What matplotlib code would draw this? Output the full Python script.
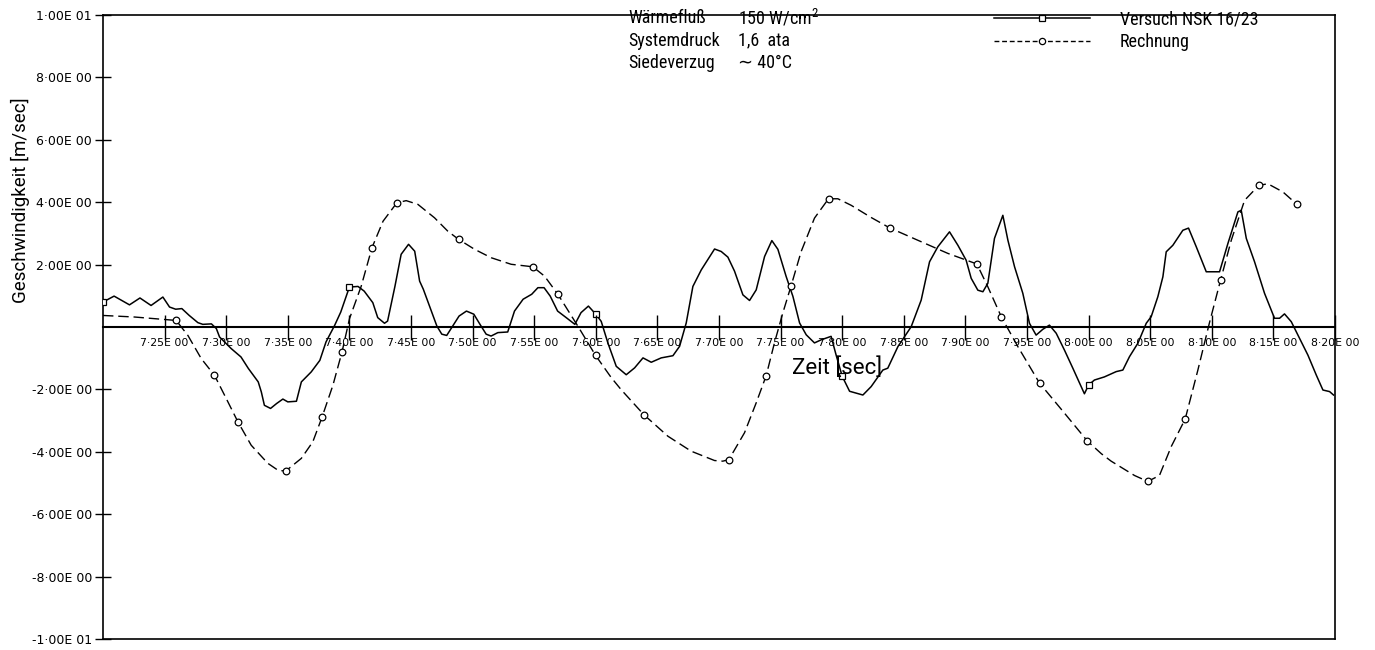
import numpy as np
import matplotlib
matplotlib.use("Agg")
import matplotlib.pyplot as plt
from matplotlib.lines import Line2D
from matplotlib import font_manager

# ---------------- data ----------------
versuch_t = [7.200, 7.209, 7.2215, 7.230, 7.239, 7.2486, 7.254, 7.259, 7.264, 7.270,
             7.277, 7.281, 7.288, 7.292, 7.2946, 7.304, 7.312, 7.318, 7.326, 7.3285,
             7.331, 7.336, 7.341, 7.346, 7.350, 7.357, 7.361, 7.369, 7.376, 7.381,
             7.388, 7.393, 7.400, 7.407, 7.412, 7.419, 7.423, 7.4285, 7.431, 7.437,
             7.442, 7.448, 7.453, 7.457, 7.460, 7.465, 7.471, 7.475, 7.479, 7.483,
             7.489, 7.495, 7.501, 7.506, 7.511, 7.515, 7.5205, 7.5285, 7.534, 7.541,
             7.548, 7.553, 7.558, 7.563, 7.569, 7.576, 7.583, 7.588, 7.594, 7.600,
             7.6044, 7.6098, 7.6166, 7.6247, 7.6315, 7.6383, 7.645, 7.6531, 7.6626, 7.668,
             7.6734, 7.6788, 7.6856, 7.6964, 7.7018, 7.7072, 7.7126, 7.7194, 7.7248, 7.7302,
             7.737, 7.7429, 7.7478, 7.7545, 7.760, 7.7654, 7.7708, 7.7775, 7.783, 7.791,
             7.795, 7.800, 7.806, 7.8168, 7.8235, 7.833, 7.837, 7.8452, 7.856, 7.8641,
             7.8709, 7.8776, 7.8871, 7.8939, 7.9006, 7.9047, 7.9101, 7.9142, 7.9182, 7.9236,
             7.9304, 7.9345, 7.9399, 7.9466, 7.952, 7.9574, 7.9628, 7.9682, 7.9737, 7.9804,
             7.9872, 7.9939, 7.9966, 8.000, 8.0047, 8.0128, 8.0224, 8.0278, 8.0332, 8.040,
             8.0468, 8.0508, 8.0562, 8.0603, 8.063, 8.0684, 8.0765, 8.0811, 8.0874, 8.0955,
             8.1063, 8.1131, 8.1212, 8.1239, 8.1280, 8.1347, 8.1428, 8.1509, 8.155, 8.159,
             8.1645, 8.1699, 8.178, 8.1848, 8.1902, 8.1956, 8.1988]
versuch_v = [0.80, 0.99, 0.71, 0.93, 0.69, 0.96, 0.64, 0.57, 0.59, 0.37,
             0.14, 0.085, 0.10, -0.05, -0.32, -0.69, -0.96, -1.33, -1.76, -2.08,
             -2.51, -2.61, -2.45, -2.31, -2.40, -2.38, -1.76, -1.44, -1.07, -0.48,
             0.05, 0.48, 1.28, 1.30, 1.15, 0.78, 0.30, 0.12, 0.19, 1.31,
             2.33, 2.65, 2.43, 1.47, 1.21, 0.67, 0.03, -0.23, -0.27, -0.02,
             0.35, 0.51, 0.41, 0.085, -0.23, -0.29, -0.18, -0.16, 0.51, 0.89,
             1.05, 1.26, 1.26, 0.99, 0.51, 0.30, 0.085, 0.46, 0.67, 0.41,
             0.18, -0.51, -1.26, -1.53, -1.31, -0.99, -1.13, -0.99, -0.92, -0.62,
             0.13, 1.30, 1.83, 2.50, 2.42, 2.24, 1.79, 1.03, 0.85, 1.19,
             2.26, 2.77, 2.49, 1.62, 0.98, 0.13, -0.25, -0.51, -0.41, -0.30,
             -0.89, -1.58, -2.06, -2.18, -1.91, -1.38, -1.32, -0.63, 0.01, 0.86,
             2.09, 2.57, 3.05, 2.62, 2.14, 1.56, 1.18, 1.13, 1.40, 2.84,
             3.58, 2.78, 1.93, 1.08, 0.12, -0.26, -0.075, 0.06, -0.20, -0.74,
             -1.32, -1.91, -2.14, -1.86, -1.70, -1.60, -1.43, -1.38, -0.95, -0.52,
             0.12, 0.33, 0.97, 1.61, 2.41, 2.62, 3.10, 3.17, 2.57, 1.77,
             1.77, 2.68, 3.69, 3.74, 2.84, 2.09, 1.08, 0.28, 0.28, 0.42,
             0.17, -0.26, -0.90, -1.54, -2.02, -2.07, -2.18]
versuch_marker_t = [7.20, 7.40, 7.60, 7.80, 8.00]

rechnung_t = [7.200, 7.2256, 7.2594, 7.2689, 7.2797, 7.2905, 7.300, 7.3095, 7.3203, 7.3338,
              7.342, 7.3482, 7.361, 7.3703, 7.3777, 7.3866, 7.394, 7.4001, 7.4096, 7.4183,
              7.4273, 7.4385, 7.4461, 7.4556, 7.4691, 7.4799, 7.4886, 7.5016, 7.5151, 7.5313,
              7.5489, 7.5584, 7.5692, 7.5854, 7.5998, 7.6125, 7.6206, 7.639, 7.6585, 7.6774,
              7.6964, 7.7031, 7.708, 7.7207, 7.7302, 7.7383, 7.745, 7.7518, 7.7586, 7.7667,
              7.7775, 7.7889, 7.7965, 7.8073, 7.8235, 7.8384, 7.8614, 7.8857, 7.9093, 7.9182,
              7.9291, 7.9426, 7.9602, 7.9804, 7.9989, 8.0103, 8.0183, 8.0373, 8.048, 8.0575,
              8.0671, 8.0784, 8.0887, 8.098, 8.1071, 8.1158, 8.1266, 8.1382, 8.1455, 8.1577,
              8.1688]
rechnung_v = [0.37, 0.32, 0.21, -0.27, -1.01, -1.55, -2.29, -3.04, -3.79, -4.37,
              -4.59, -4.62, -4.21, -3.68, -2.90, -1.87, -0.80, 0.27, 1.31, 2.54,
              3.39, 3.98, 4.05, 3.93, 3.50, 3.07, 2.81, 2.49, 2.22, 2.01,
              1.93, 1.63, 1.05, 0.03, -0.91, -1.62, -2.01, -2.81, -3.50, -3.98,
              -4.28, -4.30, -4.25, -3.39, -2.43, -1.56, -0.51, 0.45, 1.33, 2.42,
              3.49, 4.11, 4.11, 3.90, 3.51, 3.18, 2.78, 2.36, 2.02, 1.29,
              0.33, -0.63, -1.80, -2.76, -3.65, -4.06, -4.30, -4.76, -4.95, -4.76,
              -3.83, -2.95, -1.38, 0.12, 1.50, 2.78, 4.06, 4.54, 4.59, 4.33,
              3.94]
rechnung_marker_t = [7.2594, 7.2905, 7.3095, 7.3482, 7.3777, 7.394, 7.4183, 7.4385, 7.4886,
                     7.5489, 7.5692, 7.5998, 7.639, 7.708, 7.7383, 7.7586, 7.7889, 7.8384,
                     7.9093, 7.9291, 7.9602, 7.9989, 8.048, 8.0784, 8.1071, 8.1382, 8.1688]

x_ticks = [7.25, 7.30, 7.35, 7.40, 7.45, 7.50, 7.55, 7.60, 7.65, 7.70,
           7.75, 7.80, 7.85, 7.90, 7.95, 8.00, 8.05, 8.10, 8.15, 8.20]
x_ticklabels = ["7·25E 00", "7·30E 00", "7·35E 00", "7·40E 00", "7·45E 00",
                "7·50E 00", "7·55E 00", "7·60E 00", "7·65E 00", "7·70E 00",
                "7·75E 00", "7·80E 00", "7·85E 00", "7·90E 00", "7·95E 00",
                "8·00E 00", "8·05E 00", "8·10E 00", "8·15E 00", "8·20E 00"]
y_ticks = [10, 8, 6, 4, 2, -2, -4, -6, -8, -10]
y_ticklabels = ["1·00E 01", "8·00E 00", "6·00E 00", "4·00E 00", "2·00E 00",
                "-2·00E 00", "-4·00E 00", "-6·00E 00", "-8·00E 00", "-1·00E 01"]

series_names = ["Versuch NSK 16/23", "Rechnung"]
info_labels = ["Wärmefluß", "Systemdruck", "Siedeverzug"]
info_values = ["150 W/cm$^{2}$", "1,6  ata", "∼ 40°C"]

# ---------------- style ----------------
avail = {f.name for f in font_manager.fontManager.ttflist}
main_font = "DejaVu Sans"
for cand in ["Liberation Sans Narrow", "Roboto Condensed", "Liberation Sans", "Roboto"]:
    if cand in avail:
        main_font = cand
        break
wide_font = "Roboto" if "Roboto" in avail else main_font
TXT = [main_font, "DejaVu Sans"]
plt.rcParams["font.family"] = TXT
plt.rcParams["mathtext.fontset"] = "custom"
plt.rcParams["mathtext.rm"] = main_font

fig = plt.figure(figsize=(13.75, 6.5), dpi=100)
rect = [103 / 1375, 1 - 639 / 650, (1335 - 103) / 1375, (639 - 15) / 650]
ax = fig.add_axes(rect)
ax.set_xlim(7.20, 8.20)
ax.set_ylim(-10, 10)
for s in ax.spines.values():
    s.set_linewidth(1.2)
ax.tick_params(axis="x", bottom=False, labelbottom=False)
ax.set_yticks(y_ticks)
ax.set_yticklabels(y_ticklabels, fontsize=9, family="DejaVu Sans")
ax.tick_params(axis="y", direction="inout", length=12, width=1.0, pad=2)

# zero axis with ticks
ax0 = fig.add_axes(rect)
ax0.patch.set_visible(False)
for side in ["left", "right", "top"]:
    ax0.spines[side].set_visible(False)
ax0.set_xlim(7.20, 8.20)
ax0.set_ylim(-10, 10)
ax0.spines["bottom"].set_position(("data", 0))
ax0.spines["bottom"].set_linewidth(1.5)
ax0.yaxis.set_visible(False)
ax0.set_xticks(x_ticks)
ax0.set_xticklabels(x_ticklabels, fontsize=7.8, family="DejaVu Sans")
ax0.tick_params(axis="x", direction="inout", length=18, width=1.0, pad=-1)

# curves
vt = np.array(versuch_t)
vv = np.array(versuch_v)
rt = np.array(rechnung_t)
rv = np.array(rechnung_v)
v_idx = [int(np.argmin(np.abs(vt - m))) for m in versuch_marker_t]
r_idx = [int(np.argmin(np.abs(rt - m))) for m in rechnung_marker_t]

ax.plot(vt, vv, color="black", lw=1.1, marker="s", markersize=4.5,
        markerfacecolor="white", markeredgewidth=0.9, markevery=v_idx, zorder=3)
ax.plot(rt, rv, color="black", lw=1.0, dashes=(7.5, 3.5), marker="o", markersize=4.8,
        markerfacecolor="white", markeredgewidth=0.9, markevery=r_idx, zorder=3)

# axis labels
ax.text(0.596, 0.434, "Zeit [sec]", transform=ax.transAxes, fontsize=16,
        ha="center", va="center", family=[wide_font, "DejaVu Sans"])
fig.text(20 / 1375, 1 - 200 / 650, "Geschwindigkeit [m/sec]", rotation=90,
         fontsize=13.5, ha="center", va="center", family=[wide_font, "DejaVu Sans"])

# info block
for i, (lab, val) in enumerate(zip(info_labels, info_values)):
    yy = 1 - (18 + 22.5 * i) / 650
    fig.text(628 / 1375, yy, lab, fontsize=13, ha="left", va="center")
    fig.text(738 / 1375, yy, val, fontsize=13, ha="left", va="center")

# legend
handles = [
    Line2D([], [], color="black", lw=1.1, marker="s", markersize=4.5,
           markerfacecolor="white", markeredgewidth=0.9),
    Line2D([], [], color="black", lw=1.0, dashes=(3.5, 2), marker="o", markersize=4.5,
           markerfacecolor="white", markeredgewidth=0.9),
]
fig.legend(handles, series_names, loc="upper left",
           bbox_to_anchor=(978 / 1375, 1 + 6 / 650), frameon=False,
           fontsize=13, handlelength=5.3, handletextpad=1.65, labelspacing=0.28,
           numpoints=1)

fig.savefig("out.png", dpi=100)
